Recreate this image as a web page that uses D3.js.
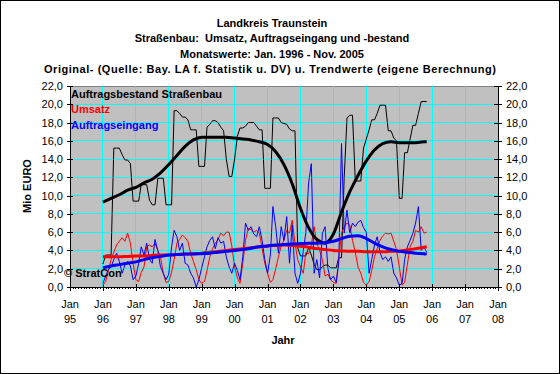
<!DOCTYPE html>
<html lang="de">
<head>
    <meta charset="UTF-8">
    <title>Landkreis Traunstein - Straßenbau</title>
    <script src="https://cdn.jsdelivr.net/npm/d3@7"></script>
    <style>
        html, body {
            margin: 0;
            background: #fff;
        }
        svg text {
            font-family: Arial, "Liberation Sans", sans-serif;
            font-size: 11px;
        }
        .bold { font-weight: bold; }
    </style>
</head>
<body>
    <div id="vis"></div>
    <script>
        // monthly values, Jan 1996 - Nov 2005 (Mio EURO)
        var startYear = 1996;

        var bestand = [
            2.5, 3.5, 3.5, 3.5, 15.2, 15.2, 15.2, 14.5, 13.9, 13.9, 13.5, 9.4,
            9.4, 9.4, 11.2, 11.2, 11.2, 9.5, 9.0, 9.0, 11.9, 11.9, 11.9, 9.0,
            9.0, 9.0, 19.3, 19.3, 19.0, 18.6, 18.6, 18.3, 17.2, 17.2, 17.2, 13.2,
            13.2, 13.2, 17.5, 17.8, 18.2, 18.2, 18.0, 17.5, 17.1, 14.0, 12.1, 12.1,
            14.0, 16.5, 17.4, 17.4, 17.6, 18.0, 18.0, 18.0, 17.6, 17.2, 17.2, 10.8,
            10.8, 10.8, 18.5, 18.5, 18.5, 18.0, 17.9, 17.8, 17.3, 17.1, 17.1, 4.3,
            3.4, 3.4, 3.4, 4.3, 3.5, 2.5, 1.9, 1.9, 2.2, 2.4, 2.4, 2.1,
            2.1, 2.1, 3.2, 3.2, 12.0, 18.5, 18.8, 18.8, 11.6, 11.6, 11.6, 15.2,
            16.2, 17.2, 18.3, 18.3, 19.0, 19.9, 19.9, 19.9, 17.1, 17.1, 16.3, 16.0,
            9.7, 9.7, 14.7, 14.7, 16.2, 17.7, 17.7, 19.0, 20.3, 20.3, 20.3
        ];

        var umsatz = [
            0.2, 0.6, 1.8, 3.0, 3.8, 4.6, 5.0, 5.4, 5.0, 5.9, 4.8, 2.6,
            0.8, 0.6, 1.6, 2.2, 4.4, 4.6, 4.4, 4.8, 4.0, 3.3, 1.5, 0.5,
            0.6, 1.6, 3.0, 4.8, 5.2, 5.7, 5.4, 5.0, 3.7, 2.8, 1.9, 0.8,
            0.4, 0.6, 1.8, 3.3, 4.2, 4.8, 5.2, 5.9, 5.6, 6.0, 6.0, 4.5,
            2.2, 1.0, 0.4, 2.6, 5.1, 6.4, 6.3, 6.0, 6.2, 5.9, 4.2, 2.6,
            1.5, 0.5, 0.8, 2.0, 3.3, 4.5, 5.1, 6.2, 5.9, 7.3, 4.8, 3.0,
            2.2, 1.5, 3.8, 3.6, 4.6, 6.6, 4.8, 4.0, 3.0, 1.2, 1.4, 0.8,
            0.5, 0.4, 3.0, 5.9, 6.6, 7.0, 6.8, 5.1, 3.8, 2.2, 1.5, 0.5,
            0.2, 0.6, 1.8, 3.3, 4.2, 5.1, 5.6, 5.9, 5.8, 5.9, 5.0, 4.1,
            2.2, 0.2, 0.5, 2.5, 4.4, 5.0, 6.2, 6.0, 6.6, 5.9, 6.0
        ];

        var eingang = [
            0.4, 1.2, 1.9, 2.2, 3.0, 3.7, 2.8, 1.5, 2.4, 2.8, 2.3, 0.8,
            1.2, 2.6, 4.4, 3.5, 4.8, 3.0, 2.6, 5.2, 4.0, 2.2, 1.5, 0.8,
            1.4, 4.4, 6.2, 5.5, 4.0, 4.8, 2.6, 2.4, 1.5, 1.0, 0.0, 0.8,
            2.1, 3.3, 4.4, 5.1, 5.5, 4.2, 5.4, 4.8, 5.0, 3.3, 2.2, 1.5,
            2.6, 1.8, 0.8, 3.3, 7.0, 6.2, 6.6, 5.8, 5.5, 6.6, 5.1, 3.0,
            1.5, 3.5, 8.8, 6.6, 3.7, 6.6, 5.1, 7.7, 2.6, 6.8, 1.5, 0.4,
            1.5, 4.0, 5.9, 11.4, 13.5, 1.5, 3.0, 1.0, 5.9, 6.6, 2.0, 0.8,
            1.2, 0.5, 2.6, 15.7, 5.9, 8.4, 5.9, 7.0, 6.6, 7.1, 7.3, 6.5,
            6.0, 1.5, 3.0, 4.6, 5.5, 3.8, 3.0, 3.3, 2.8, 3.3, 1.5, 1.0,
            0.2, 0.4, 3.0, 4.4, 5.1, 5.9, 7.0, 8.8, 4.0, 4.4, 3.8
        ];

        // trend values, month offset from Jan 1996
        var trendMonths = [0, 3, 6, 9, 12, 15, 18, 21, 24, 27, 30, 33, 36, 39, 42, 45, 48, 51, 54, 57,
            60, 63, 66, 69, 72, 75, 78, 81, 84, 87, 90, 93, 96, 99, 102, 105, 108, 111, 114, 117, 118];

        var bestandTrend = [9.3, 9.7, 10.1, 10.6, 10.9, 11.4, 11.8, 12.5, 13.4, 14.4, 15.4, 16.1, 16.4, 16.4,
            16.4, 16.4, 16.3, 16.2, 16.1, 15.9, 15.6, 14.8, 13.4, 11.3, 8.6, 6.5, 5.2, 4.8, 5.8, 8.2,
            10.4, 12.2, 13.8, 15.0, 15.7, 15.9, 15.8, 15.8, 15.8, 15.9, 15.9];

        var umsatzTrend = [3.3, 3.3, 3.3, 3.35, 3.4, 3.4, 3.45, 3.5, 3.5, 3.55, 3.6, 3.65, 3.7, 3.8, 3.9,
            4.0, 4.1, 4.2, 4.3, 4.4, 4.5, 4.55, 4.6, 4.55, 4.45, 4.35, 4.2, 4.1, 4.0, 3.95, 3.9, 3.9,
            3.85, 3.85, 3.85, 3.9, 3.95, 4.05, 4.2, 4.35, 4.4];

        var eingangTrend = [2.1, 2.3, 2.45, 2.6, 2.75, 3.0, 3.2, 3.35, 3.5, 3.55, 3.6, 3.6, 3.65, 3.7, 3.8,
            3.9, 4.0, 4.1, 4.25, 4.4, 4.5, 4.6, 4.65, 4.7, 4.75, 4.8, 4.8, 4.85, 5.0, 5.3, 5.55, 5.6,
            5.3, 4.8, 4.4, 4.1, 3.9, 3.8, 3.7, 3.65, 3.6];

        var yTicks = [0, 2, 4, 6, 8, 10, 12, 14, 16, 18, 20, 22];
        var xYears = [1995, 1996, 1997, 1998, 1999, 2000, 2001, 2002, 2003, 2004, 2005, 2006, 2007, 2008];

        var titleLines = [
            "Landkreis Traunstein",
            "Straßenbau:  Umsatz, Auftragseingang und -bestand",
            "Monatswerte: Jan. 1996 - Nov. 2005",
            "Original- (Quelle: Bay. LA f. Statistik u. DV) u. Trendwerte (eigene Berechnung)"
        ];

        /*
         *  SETUP
         */
        var W = 560, H = 374;
        var plot = {left: 70, right: 498, top: 86, bottom: 287};

        var svg = d3.select('#vis')
            .append('svg')
                .attr('width', W)
                .attr('height', H);

        svg.append('rect')
            .attr('x', 0.5).attr('y', 0.5)
            .attr('width', W - 1).attr('height', H - 1)
            .attr('fill', '#fff')
            .attr('stroke', '#000');

        var x = d3.scaleTime()
            .domain([new Date(xYears[0], 0, 1), new Date(xYears[xYears.length - 1], 0, 1)])
            .range([plot.left, plot.right]);

        var y = d3.scaleLinear()
            .domain([0, 22])
            .range([plot.bottom, plot.top]);

        // plot area
        svg.append('rect')
            .attr('x', plot.left).attr('y', plot.top)
            .attr('width', plot.right - plot.left)
            .attr('height', plot.bottom - plot.top)
            .attr('fill', '#c0c0c0')
            .attr('stroke', '#808080')
            .attr('shape-rendering', 'crispEdges');

        // grid
        var grid = svg.append('g').attr('shape-rendering', 'crispEdges');
        grid.selectAll('.hgrid')
            .data(yTicks.slice(1, -1))
            .enter().append('line')
                .attr('x1', plot.left).attr('x2', plot.right)
                .attr('y1', function(d) { return y(d); })
                .attr('y2', function(d) { return y(d); })
                .attr('stroke', '#00ffff');
        grid.selectAll('.vgrid')
            .data(xYears.slice(1, -1))
            .enter().append('line')
                .attr('y1', plot.top).attr('y2', plot.bottom)
                .attr('x1', function(d) { return x(new Date(d, 0, 1)); })
                .attr('x2', function(d) { return x(new Date(d, 0, 1)); })
                .attr('stroke', '#00ffff');

        // axes
        var fmt = function(d) { return d3.format('.1f')(d).replace('.', ','); };

        var leftAxis = svg.append('g')
            .attr('transform', 'translate(' + plot.left + ',0)')
            .call(d3.axisLeft(y).tickValues(yTicks).tickFormat(fmt).tickSize(3).tickSizeOuter(0).tickPadding(4));
        leftAxis.selectAll('.tick line').attr('x2', -3).attr('x1', 3);

        var rightAxis = svg.append('g')
            .attr('transform', 'translate(' + plot.right + ',0)')
            .call(d3.axisRight(y).tickValues(yTicks).tickFormat(fmt).tickSize(4).tickSizeOuter(0).tickPadding(4));
        rightAxis.selectAll('.tick line').attr('x1', -4).attr('x2', 4);

        svg.append('g')
            .attr('transform', 'translate(0,' + plot.bottom + ')')
            .call(d3.axisBottom(x).ticks(d3.timeMonth.every(1)).tickFormat('').tickSize(2).tickSizeOuter(0));

        var bottomAxis = svg.append('g')
            .attr('transform', 'translate(0,' + plot.bottom + ')')
            .call(d3.axisBottom(x).tickValues(xYears.map(function(d) { return new Date(d, 0, 1); }))
                .tickFormat('').tickSize(4).tickSizeOuter(0));
        bottomAxis.selectAll('.tick line').attr('y1', -3);

        svg.selectAll('.domain').attr('stroke', '#000');
        svg.selectAll('.tick line').attr('stroke', '#000').attr('shape-rendering', 'crispEdges');
        svg.selectAll('.tick text').attr('fill', '#000').style('font-size', '11px');

        var xLabels = svg.append('g').attr('text-anchor', 'middle');
        xYears.forEach(function(yr) {
            var t = xLabels.append('text')
                .attr('x', x(new Date(yr, 0, 1)))
                .attr('y', 308);
            t.append('tspan').text('Jan');
            t.append('tspan')
                .attr('x', x(new Date(yr, 0, 1)))
                .attr('dy', 15)
                .text(String(yr).slice(2));
        });

        // axis titles
        svg.append('text')
            .attr('class', 'bold')
            .attr('x', 283).attr('y', 344)
            .attr('text-anchor', 'middle')
            .text('Jahr');

        svg.append('text')
            .attr('class', 'bold')
            .attr('transform', 'translate(31,186) rotate(-90)')
            .attr('text-anchor', 'middle')
            .text('Mio EURO');

        // title (last line is set wider, like the original)
        svg.append('g')
            .attr('class', 'bold')
            .attr('text-anchor', 'middle')
            .selectAll('text')
            .data(titleLines)
            .enter().append('text')
                .attr('x', function(d, i) { return i === 3 ? 270 : 272; })
                .attr('y', function(d, i) { return 27 + i * 15.4; })
                .attr('xml:space', 'preserve')
                .each(function(d, i) {
                    if (i === 3) {
                        d3.select(this).attr('textLength', 452).attr('lengthAdjust', 'spacing');
                    }
                })
                .text(function(d) { return d; });

        /*
         *  SERIES
         */
        var monthly = function(vals) {
            return vals.map(function(v, i) { return {date: new Date(startYear, i, 1), v: v}; });
        };
        var trend = function(vals) {
            return vals.map(function(v, i) { return {date: new Date(startYear, trendMonths[i], 1), v: v}; });
        };

        var line = d3.line()
            .x(function(d) { return x(d.date); })
            .y(function(d) { return y(d.v); });

        var smooth = d3.line()
            .curve(d3.curveMonotoneX)
            .x(function(d) { return x(d.date); })
            .y(function(d) { return y(d.v); });

        var lines = [
            {data: monthly(bestand), gen: line, color: '#000', w: 1},
            {data: monthly(umsatz), gen: line, color: '#ff0000', w: 1},
            {data: monthly(eingang), gen: line, color: '#0000ff', w: 1},
            {data: trend(bestandTrend), gen: smooth, color: '#000', w: 3},
            {data: trend(umsatzTrend), gen: smooth, color: '#ff0000', w: 3},
            {data: trend(eingangTrend), gen: smooth, color: '#0000ff', w: 3}
        ];

        svg.append('g').selectAll('path')
            .data(lines)
            .enter().append('path')
                .attr('fill', 'none')
                .attr('stroke', function(d) { return d.color; })
                .attr('stroke-width', function(d) { return d.w; })
                .attr('stroke-linejoin', 'round')
                .attr('d', function(d) { return d.gen(d.data); });

        // legend texts
        var legend = [
            {name: 'Auftragsbestand Straßenbau', color: '#000'},
            {name: 'Umsatz', color: '#ff0000'},
            {name: 'Auftragseingang', color: '#0000ff'}
        ];
        svg.append('g').selectAll('text')
            .data(legend)
            .enter().append('text')
                .attr('class', 'bold')
                .attr('x', 71)
                .attr('y', function(d, i) { return 98 + i * 15.3; })
                .attr('fill', function(d) { return d.color; })
                .text(function(d) { return d.name; });

        svg.append('text')
            .attr('class', 'bold')
            .attr('x', 64).attr('y', 277)
            .text('\u00a9 StratCon');
    </script>
</body>
</html>
